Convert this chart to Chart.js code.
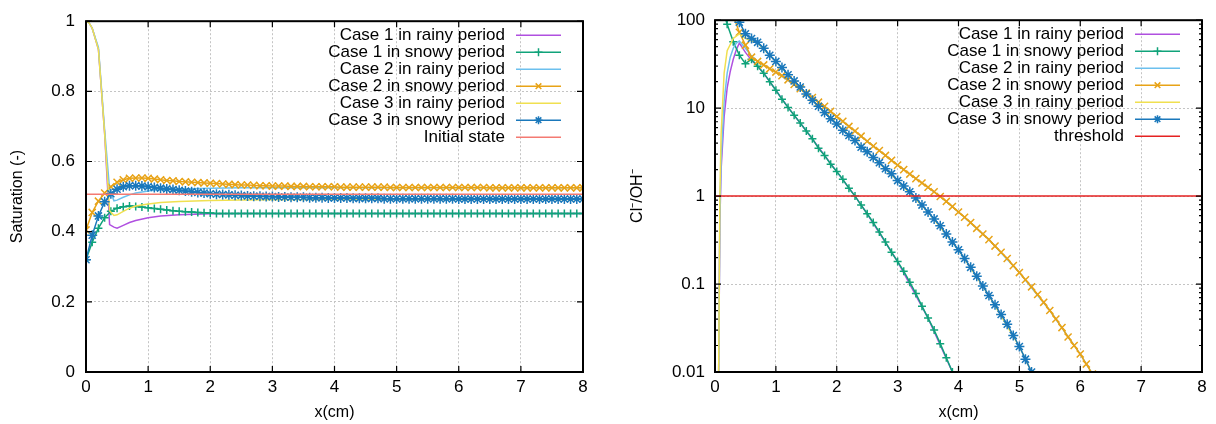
<!DOCTYPE html>
<html lang="en">
<head>
<meta charset="UTF-8">
<title>Saturation and Cl-/OH- profiles</title>
<style>
  * { margin: 0; padding: 0; box-sizing: border-box; }
  body { width: 1216px; height: 424px; background: #fff; overflow: hidden; }
  .panel { position: absolute; top: 0; height: 424px; }
  #leftPanel { left: 0; width: 600px; }
  #rightPanel { left: 600px; width: 616px; }
</style>
</head>
<body>
<div class="panel" id="leftPanel"><canvas id="satChart"></canvas></div>
<div class="panel" id="rightPanel"><canvas id="ratioChart"></canvas></div>

<script src="https://cdn.jsdelivr.net/npm/chart.js"></script>
<script>
// ---- data ----
const seriesLabels = [
  'Case 1 in rainy period', 'Case 1 in snowy period',
  'Case 2 in rainy period', 'Case 2 in snowy period',
  'Case 3 in rainy period', 'Case 3 in snowy period'
];
const xTicks = [0, 1, 2, 3, 4, 5, 6, 7, 8];
const satTicks = [0, 0.2, 0.4, 0.6, 0.8, 1];
const ratioTicks = [0.01, 0.1, 1, 10, 100];
const ratioMinorTicks = [0.02, 0.03, 0.04, 0.05, 0.06, 0.07, 0.08, 0.09,
  0.2, 0.3, 0.4, 0.5, 0.6, 0.7, 0.8, 0.9, 2, 3, 4, 5, 6, 7, 8, 9,
  20, 30, 40, 50, 60, 70, 80, 90];

// snowy-period results are plotted with a marker every 0.1 cm
const xSnow = [
  0, 0.1, 0.2, 0.3, 0.4, 0.5, 0.6, 0.7, 0.8, 0.9,
  1, 1.1, 1.2, 1.3, 1.4, 1.5, 1.6, 1.7, 1.8, 1.9,
  2, 2.1, 2.2, 2.3, 2.4, 2.5, 2.6, 2.7, 2.8, 2.9,
  3, 3.1, 3.2, 3.3, 3.4, 3.5, 3.6, 3.7, 3.8, 3.9,
  4, 4.1, 4.2, 4.3, 4.4, 4.5, 4.6, 4.7, 4.8, 4.9,
  5, 5.1, 5.2, 5.3, 5.4, 5.5, 5.6, 5.7, 5.8, 5.9,
  6, 6.1, 6.2, 6.3, 6.4, 6.5, 6.6, 6.7, 6.8, 6.9,
  7, 7.1, 7.2, 7.3, 7.4, 7.5, 7.6, 7.7, 7.8, 7.9,
  8
];

// left panel: saturation
const xRainSat = [0, 0.05, 0.1, 0.2, 0.3, 0.38, 0.45, 0.5, 0.6, 0.7, 0.8, 1, 1.2, 1.5, 2, 2.5, 3, 4, 5, 6, 7, 8];
const satRain1 = [1, 0.995, 0.98, 0.92, 0.68, 0.42, 0.413, 0.41, 0.418, 0.426, 0.432, 0.44, 0.445, 0.448, 0.451, 0.452, 0.452, 0.452, 0.452, 0.452, 0.452, 0.452];
const satRain2 = [1, 0.995, 0.98, 0.925, 0.69, 0.52, 0.488, 0.49, 0.498, 0.505, 0.51, 0.516, 0.52, 0.522, 0.524, 0.525, 0.525, 0.525, 0.525, 0.525, 0.525, 0.525];
const satRain3 = [1, 0.995, 0.98, 0.92, 0.68, 0.46, 0.446, 0.448, 0.458, 0.467, 0.473, 0.479, 0.483, 0.486, 0.489, 0.49, 0.491, 0.492, 0.492, 0.492, 0.492, 0.492];
const satSnow1 = [
  0.320, 0.370, 0.410, 0.440, 0.458, 0.467, 0.471, 0.473, 0.472, 0.470,
  0.468, 0.466, 0.464, 0.462, 0.460, 0.458, 0.457, 0.456, 0.455, 0.454,
  0.453, 0.452, 0.452, 0.452, 0.452, 0.452, 0.452, 0.452, 0.452, 0.452,
  0.452, 0.452, 0.452, 0.452, 0.452, 0.452, 0.452, 0.452, 0.452, 0.452,
  0.452, 0.452, 0.452, 0.452, 0.452, 0.452, 0.452, 0.452, 0.452, 0.452,
  0.452, 0.452, 0.452, 0.452, 0.452, 0.452, 0.452, 0.452, 0.452, 0.452,
  0.452, 0.452, 0.452, 0.452, 0.452, 0.452, 0.452, 0.452, 0.452, 0.452,
  0.452, 0.452, 0.452, 0.452, 0.452, 0.452, 0.452, 0.452, 0.452, 0.452,
  0.452
];
const satSnow2 = [
  0.405, 0.455, 0.487, 0.510, 0.528, 0.541, 0.548, 0.552, 0.553, 0.553,
  0.552, 0.550, 0.548, 0.546, 0.545, 0.543, 0.542, 0.541, 0.540, 0.539,
  0.538, 0.537, 0.536, 0.535, 0.534, 0.533, 0.533, 0.532, 0.531, 0.531,
  0.530, 0.530, 0.530, 0.529, 0.529, 0.529, 0.528, 0.528, 0.528, 0.528,
  0.528, 0.527, 0.527, 0.527, 0.527, 0.527, 0.527, 0.527, 0.527, 0.526,
  0.526, 0.526, 0.526, 0.526, 0.526, 0.526, 0.526, 0.526, 0.526, 0.526,
  0.526, 0.526, 0.526, 0.526, 0.526, 0.525, 0.525, 0.525, 0.525, 0.525,
  0.525, 0.525, 0.525, 0.525, 0.525, 0.525, 0.525, 0.525, 0.525, 0.525,
  0.525
];
const satSnow3 = [
  0.320, 0.390, 0.445, 0.485, 0.508, 0.521, 0.528, 0.531, 0.531, 0.530,
  0.528, 0.526, 0.524, 0.522, 0.520, 0.518, 0.516, 0.514, 0.512, 0.510,
  0.508, 0.507, 0.506, 0.505, 0.504, 0.503, 0.502, 0.501, 0.501, 0.500,
  0.500, 0.499, 0.499, 0.498, 0.498, 0.498, 0.497, 0.497, 0.497, 0.496,
  0.496, 0.496, 0.496, 0.495, 0.495, 0.495, 0.495, 0.495, 0.494, 0.494,
  0.494, 0.494, 0.494, 0.494, 0.494, 0.494, 0.494, 0.494, 0.494, 0.494,
  0.493, 0.493, 0.493, 0.493, 0.493, 0.493, 0.493, 0.493, 0.493, 0.493,
  0.493, 0.493, 0.493, 0.493, 0.493, 0.493, 0.493, 0.493, 0.493, 0.493,
  0.493
];
const xRefLine = [0, 8];
const initialState = [0.507, 0.507];

// right panel: Cl-/OH- ratio (log scale)
const xRainR1 = [0, 0.06, 0.08, 0.1, 0.15, 0.2, 0.25, 0.3, 0.35, 0.4, 0.5, 0.6, 0.7, 0.8, 1, 1.2, 1.5, 2, 2.3, 2.5, 3, 3.5, 3.9, 4];
const ratioRain1 = [0.0001, 0.01, 0.5, 2, 8, 17, 26, 36, 46, 55, 43, 35, 30, 25, 16, 10.2, 5.5, 1.9, 1.0, 0.63, 0.18, 0.041, 0.01, 0.007];
const xRainR2 = [0, 0.06, 0.08, 0.1, 0.15, 0.2, 0.25, 0.3, 0.35, 0.4, 0.5, 0.6, 0.7, 0.8, 1, 1.5, 2, 2.5, 3, 3.7, 4, 4.5, 5, 5.5, 6, 6.2, 6.3];
const ratioRain2 = [0.0001, 0.01, 0.6, 2.5, 12, 25, 38, 48, 55, 58, 48, 39, 34, 31, 25.7, 14.8, 8.0, 4.2, 2.25, 0.99, 0.66, 0.32, 0.135, 0.05, 0.016, 0.0095, 0.007];
const xRainR3 = [0, 0.06, 0.08, 0.1, 0.15, 0.2, 0.3, 0.4, 0.5, 0.6, 0.7, 1, 1.5, 2, 2.5, 3, 3.5, 4, 4.5, 5, 5.2, 5.3];
const ratioRain3 = [0.0001, 0.01, 1, 5, 25, 45, 62, 70, 62, 58, 55, 34, 14.5, 6.6, 3.2, 1.5, 0.66, 0.245, 0.074, 0.0195, 0.01, 0.007];
const ratioSnow1 = [
  400, 150, 90, 57, 40, 32, 36, 30, 25, 20,
  16, 12.6, 10.2, 8.3, 6.8, 5.5, 4.5, 3.5, 2.9, 2.3,
  1.9, 1.55, 1.23, 1.0, 0.79, 0.63, 0.5, 0.39, 0.3, 0.23,
  0.18, 0.14, 0.105, 0.078, 0.056, 0.041, 0.03, 0.021, 0.0145, 0.01
];
const ratioSnow2 = [
  800, 400, 200, 112, 73, 52, 38, 34, 31, 28,
  25.7, 23.4, 21, 18.6, 16.6, 14.8, 13.2, 11.7, 10.5, 9.2,
  8.0, 7.1, 6.2, 5.5, 4.8, 4.2, 3.7, 3.3, 2.9, 2.55,
  2.25, 2.0, 1.78, 1.58, 1.41, 1.26, 1.12, 0.99, 0.87, 0.76,
  0.66, 0.575, 0.5, 0.43, 0.37, 0.32, 0.27, 0.23, 0.195, 0.162,
  0.135, 0.112, 0.093, 0.076, 0.062, 0.05, 0.04, 0.032, 0.025, 0.02,
  0.016, 0.0123, 0.0095
];
const ratioSnow3 = [
  1000, 600, 300, 150, 95, 70, 62, 56, 48, 40,
  34, 29, 24, 20.4, 17.4, 14.5, 12.3, 10.5, 8.9, 7.6,
  6.6, 5.6, 4.9, 4.3, 3.6, 3.2, 2.75, 2.4, 2.05, 1.8,
  1.5, 1.3, 1.12, 0.95, 0.79, 0.66, 0.55, 0.46, 0.37, 0.30,
  0.245, 0.195, 0.155, 0.123, 0.095, 0.074, 0.058, 0.045, 0.035, 0.026,
  0.0195, 0.014, 0.01
];
const threshold = [1, 1];

// ---- styling ----
const colors = ['#b050e0', '#10a37a', '#6cc0ee', '#e8a317', '#f0e050', '#1a78bb'];
const markers = [null, 'cross', null, 'crossRot', null, 'star'];
const markerSize = { cross: 4, crossRot: 5, star: 5 };
const FONT = "'Liberation Sans', Arial, sans-serif";

function pts(xs, ys) {
  return ys.map((y, i) => ({ x: xs[i], y: y }));
}

function lineSet(idx, label, color, xs, ys, marker) {
  return {
    label: label,
    data: pts(xs, ys),
    showLine: true,
    borderColor: color,
    backgroundColor: color,
    borderWidth: 1.5,
    pointStyle: marker || 'circle',
    pointRadius: marker ? markerSize[marker] : 0,
    pointBorderWidth: 1.5,
    pointBorderColor: color,
    order: 10 - idx
  };
}

function drawMarker(ctx, style, x, y, r) {
  ctx.beginPath();
  if (style === 'cross' || style === 'star') {
    ctx.moveTo(x - r, y); ctx.lineTo(x + r, y);
    ctx.moveTo(x, y - r); ctx.lineTo(x, y + r);
  }
  if (style === 'crossRot' || style === 'star') {
    const d = r * 0.707;
    ctx.moveTo(x - d, y - d); ctx.lineTo(x + d, y + d);
    ctx.moveTo(x - d, y + d); ctx.lineTo(x + d, y - d);
  }
  ctx.stroke();
}

// gnuplot-like frame: closed border, inward ticks on all sides, key at top right
const framePlugin = {
  id: 'frame',
  afterDatasetsDraw(chart, args, opts) {
    const { ctx, chartArea: a, scales } = chart;
    ctx.save();
    ctx.strokeStyle = '#000';
    ctx.lineWidth = 1.2;
    ctx.beginPath();
    scales.x.ticks.forEach(t => {
      const px = scales.x.getPixelForValue(t.value);
      ctx.moveTo(px, a.bottom); ctx.lineTo(px, a.bottom - 6);
      ctx.moveTo(px, a.top); ctx.lineTo(px, a.top + 6);
    });
    scales.y.ticks.forEach(t => {
      const py = scales.y.getPixelForValue(t.value);
      ctx.moveTo(a.left, py); ctx.lineTo(a.left + 6, py);
      ctx.moveTo(a.right, py); ctx.lineTo(a.right - 6, py);
    });
    (opts.minor || []).forEach(v => {
      const py = scales.y.getPixelForValue(v);
      ctx.moveTo(a.left, py); ctx.lineTo(a.left + 3, py);
      ctx.moveTo(a.right, py); ctx.lineTo(a.right - 3, py);
    });
    ctx.stroke();
    ctx.lineWidth = 2;
    ctx.strokeRect(a.left, a.top, a.right - a.left, a.bottom - a.top);

    // key
    ctx.font = '17px ' + FONT;
    ctx.textAlign = 'right';
    ctx.textBaseline = 'middle';
    chart.data.datasets.forEach((ds, i) => {
      const y = a.top + 14 + i * 17;
      ctx.fillStyle = '#000';
      ctx.fillText(ds.label, a.right - 78, y);
      ctx.strokeStyle = ds.borderColor;
      ctx.lineWidth = 1.5;
      ctx.beginPath();
      ctx.moveTo(a.right - 67, y); ctx.lineTo(a.right - 22, y);
      ctx.stroke();
      if (ds.pointRadius > 0) drawMarker(ctx, ds.pointStyle, a.right - 44.5, y, 4);
    });
    ctx.restore();
  }
};

function buildOptions(y, yTitle, yWidth, yTitlePad, padRight, minor) {
  const tickFont = { family: FONT, size: 17 };
  const titleFont = { family: FONT, size: 16 };
  const grid = { color: '#c4c4c4', lineWidth: 1, drawTicks: false };
  const border = { display: false, dash: [2, 2] };
  return {
    responsive: true,
    maintainAspectRatio: false,
    animation: false,
    layout: { padding: { top: 18, right: padRight, bottom: 0, left: 0 } },
    plugins: { legend: { display: false }, tooltip: { enabled: false }, frame: { minor: minor } },
    scales: {
      x: {
        type: 'linear', min: 0, max: 8,
        afterBuildTicks: s => { s.ticks = xTicks.map(v => ({ value: v })); },
        ticks: { color: '#000', font: tickFont, padding: 5, maxRotation: 0 },
        grid: grid, border: border,
        title: { display: true, text: 'x(cm)', color: '#000', font: titleFont, padding: { top: 0, bottom: 2 } },
        afterFit: s => { s.height = 52; }
      },
      y: Object.assign({
        ticks: { color: '#000', font: tickFont, padding: 11, callback: v => String(v) },
        grid: grid, border: border,
        title: { display: true, text: yTitle, color: '#000', font: titleFont, padding: { top: yTitlePad, bottom: 0 } },
        afterFit: s => { s.width = yWidth; }
      }, y)
    }
  };
}

new Chart(document.getElementById('satChart'), {
  type: 'scatter',
  data: {
    datasets: [
      lineSet(0, seriesLabels[0], colors[0], xRainSat, satRain1, markers[0]),
      lineSet(1, seriesLabels[1], colors[1], xSnow, satSnow1, markers[1]),
      lineSet(2, seriesLabels[2], colors[2], xRainSat, satRain2, markers[2]),
      lineSet(3, seriesLabels[3], colors[3], xSnow, satSnow2, markers[3]),
      lineSet(4, seriesLabels[4], colors[4], xRainSat, satRain3, markers[4]),
      lineSet(5, seriesLabels[5], colors[5], xSnow, satSnow3, markers[5]),
      lineSet(6, 'Initial state', '#f47a72', xRefLine, initialState, null)
    ]
  },
  options: buildOptions({
    type: 'linear', min: 0, max: 1,
    afterBuildTicks: s => { s.ticks = satTicks.map(v => ({ value: v })); }
  }, 'Saturation (-)', 86, 8, 17, []),
  plugins: [framePlugin]
});

new Chart(document.getElementById('ratioChart'), {
  type: 'scatter',
  data: {
    datasets: [
      lineSet(0, seriesLabels[0], colors[0], xRainR1, ratioRain1, markers[0]),
      lineSet(1, seriesLabels[1], colors[1], xSnow.slice(0, ratioSnow1.length), ratioSnow1, markers[1]),
      lineSet(2, seriesLabels[2], colors[2], xRainR2, ratioRain2, markers[2]),
      lineSet(3, seriesLabels[3], colors[3], xSnow.slice(0, ratioSnow2.length), ratioSnow2, markers[3]),
      lineSet(4, seriesLabels[4], colors[4], xRainR3, ratioRain3, markers[4]),
      lineSet(5, seriesLabels[5], colors[5], xSnow.slice(0, ratioSnow3.length), ratioSnow3, markers[5]),
      lineSet(6, 'threshold', '#e52222', xRefLine, threshold, null)
    ]
  },
  options: buildOptions({
    type: 'logarithmic', min: 0.01, max: 100,
    afterBuildTicks: s => { s.ticks = ratioTicks.map(v => ({ value: v })); },
    ticks: { color: '#000', font: { family: FONT, size: 17 }, padding: 10, callback: v => String(v) }
  }, 'Cl\u207B/OH\u207B', 115, 28, 14, ratioMinorTicks),
  plugins: [framePlugin]
});
</script>
</body>
</html>
